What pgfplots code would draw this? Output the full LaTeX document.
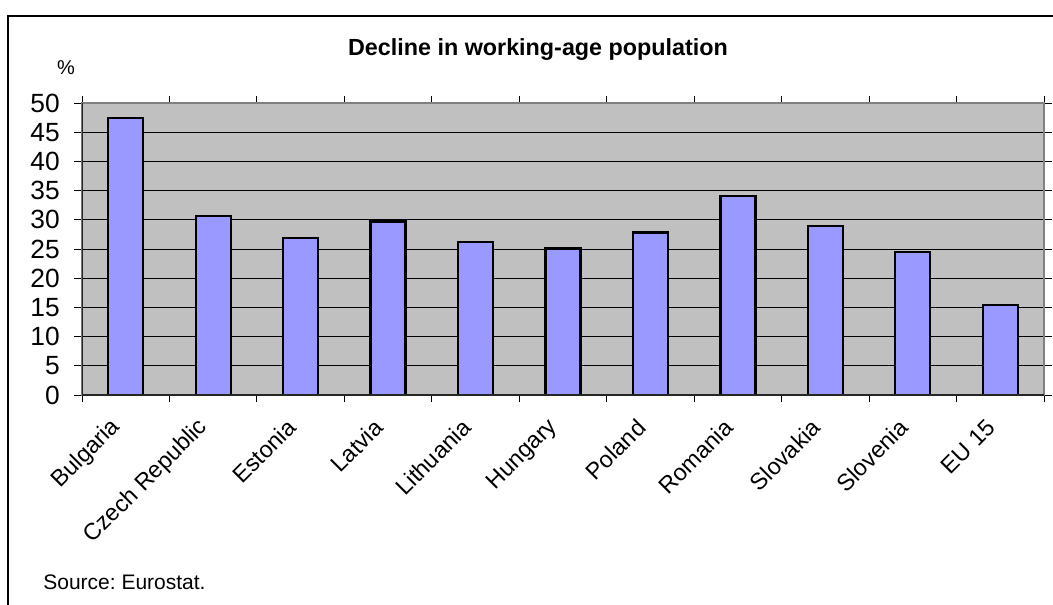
\documentclass[border=0pt]{standalone}
\usepackage{pgfplots}
\pgfplotsset{compat=1.18}
\usepackage{fontspec}
\setmainfont{Liberation Sans}
\frenchspacing
\definecolor{barfill}{HTML}{9999FF}
\definecolor{plotbg}{HTML}{C0C0C0}
\definecolor{bordergray}{HTML}{808080}
\begin{document}
\begin{tikzpicture}[x=1pt,y=1pt]
\useasboundingbox (0,0) rectangle (631.8,362.4);
\fill[white] (0,0) rectangle (631.8,362.4);
% outer frame (cropped at right and bottom)
\draw[black, line width=1pt] (4.8,-2) -- (4.8,352.8) -- (640,352.8);
\begin{axis}[
  at={(49.2pt,125.4pt)}, anchor=south west,
  scale only axis, width=577.2pt, height=175.2pt,
  xmin=-0.5, xmax=10.5, ymin=0, ymax=50,
  axis background/.style={fill=plotbg},
  axis line style={draw=bordergray, line width=1.2pt},
  ybar, bar width=21pt,
  xtick={0,...,10},
  xticklabels={Bulgaria,Czech Republic,Estonia,Latvia,Lithuania,Hungary,Poland,Romania,Slovakia,Slovenia,EU 15},
  minor xtick={-0.5,0.5,...,10.5},
  every major x tick/.append style={draw=none},
  every minor x tick/.append style={black, line width=0.5pt},
  minor tick length=4pt,
  ytick={0,5,...,50},
  tick align=outside,
  major tick length=4.8pt,
  every major y tick/.append style={black, line width=0.5pt},
  ymajorgrids,
  grid style={black, line width=0.5pt},
  /pgf/number format/assume math mode=true,
  yticklabel style={font=\fontsize{15.8}{18}\selectfont, xshift=-5pt},
  xticklabel style={font=\fontsize{14}{16}\selectfont, xshift=-3pt, yshift=-10pt, rotate=45, anchor=east},
]
\addplot[fill=barfill, draw=black, line width=1.4pt] coordinates {
  (0,47.4) (1,30.7) (2,26.9) (3,29.7) (4,26.2) (5,25.1)
  (6,27.8) (7,34.1) (8,28.9) (9,24.5) (10,15.4)
};
\draw[black!85, line width=0.7pt] (rel axis cs:0,1) -- (rel axis cs:0,0) -- (rel axis cs:1,0);
\end{axis}
\node[font=\fontsize{14}{16}\selectfont\bfseries] at (322.8,332.6) {Decline in working-age population};
\node[font=\fontsize{12}{14}\selectfont] at (39.6,321.6) {\%};
\node[font=\fontsize{12.6}{14}\selectfont, anchor=west, inner sep=0pt] at (25.8,13.2) {Source: Eurostat.};
\end{tikzpicture}
\end{document}
